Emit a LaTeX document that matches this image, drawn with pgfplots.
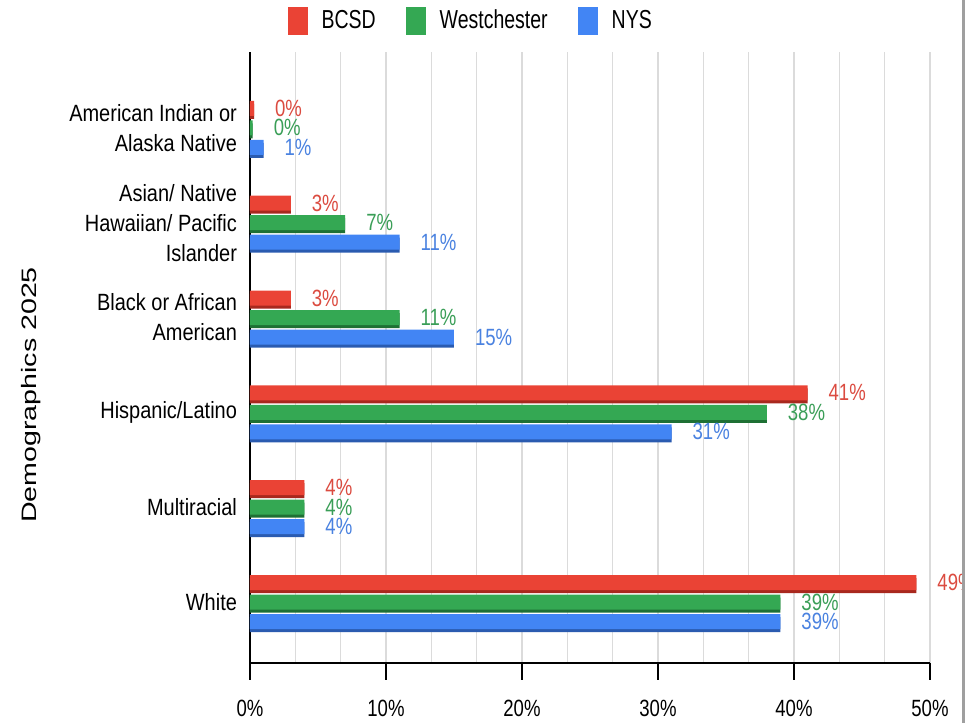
\documentclass[border=0pt]{standalone}
\usepackage{fontspec}
\setmainfont{Liberation Sans}[FakeStretch=0.85]
\newfontfamily\widefont{Liberation Sans}
\newfontfamily\catfont{Liberation Sans}[FakeStretch=0.85]
\newfontfamily\numfont{Liberation Sans}[FakeStretch=0.79]
\newfontfamily\legfont{Liberation Sans}[FakeStretch=0.75]
\usepackage{graphicx}
\usepackage{pgfplots}
\usepackage{pgfplotstable}
\pgfplotsset{compat=1.18}

\definecolor{cRed}{HTML}{EA4335}
\definecolor{cGreen}{HTML}{34A853}
\definecolor{cBlue}{HTML}{4285F4}
\definecolor{cRedD}{HTML}{A8281E}
\definecolor{cGreenD}{HTML}{1E7034}
\definecolor{cBlueD}{HTML}{2A5BB0}
\definecolor{tRed}{HTML}{DB4B40}
\definecolor{tGreen}{HTML}{3A9E57}
\definecolor{tBlue}{HTML}{4A82E0}

% pos 0 = White (bottom) ... 5 = American Indian or Alaska Native (top)
\pgfplotstableread{
pos bcsd west nys
0 49 39 39
1 4 4 4
2 41 38 31
3 3 11 15
4 3 7 11
5 0.3 0.2 1
}\demog

\begin{document}
\begin{tikzpicture}
\useasboundingbox (0,0) rectangle (485.5pt,361.5pt);
\begin{axis}[
  at={(125pt,30pt)}, anchor=south west,
  scale only axis, width=340pt, height=305.5pt,
  xbar, xmin=0, xmax=50, ymin=-0.643, ymax=5.80,
  axis lines*=left,
  axis line style={-, black, line width=1pt},
  xtick={0,10,...,50}, minor x tick num=2,
  xmajorgrids, xminorgrids,
  major grid style={gray!28, line width=0.6pt},
  minor grid style={gray!28, line width=0.6pt},
  minor tick length=0pt,
  tick align=outside, major tick length=8.5pt,
  xtick style={black, line width=1pt},
  ytick={0,...,5},
  ytick style={draw=none},
  yticklabels={White, Multiracial, Hispanic/Latino, {Black or African\\American}, {Asian/ Native\\Hawaiian/ Pacific\\Islander}, {American Indian or\\Alaska Native}},
  yticklabel style={align=right, font=\catfont\fontsize{11.75}{15}\selectfont, text=black, xshift=5.5pt},
  xticklabel={\pgfmathprintnumber{\tick}\%},
  xticklabel style={font=\numfont\fontsize{11.75}{13}\selectfont, text=black, yshift=-6.5pt},
  /pgf/number format/assume math mode=true,
  bar width=7.5pt,
  point meta=x,
  legend style={at={(axis description cs:0.326,1.0507)}, anchor=center, draw=none, fill=none,
    legend columns=3, font=\legfont\fontsize{13}{15}\selectfont,
    /tikz/every odd column/.append style={column sep=5pt},
    /tikz/every even column/.append style={column sep=13pt}},
  legend image code/.code={\fill[#1] (0pt,-7pt) rectangle (10pt,7pt);},
  ylabel={\scalebox{1}[0.73]{\widefont\fontsize{14.3}{16}\selectfont Demographics 2025}},
  ylabel style={at={(axis description cs:-0.322,0.4386)}, anchor=center},
]
% darker lower edges (3D look)
\addplot[xbar, fill=cRedD, draw=none, bar shift=8.25pt, forget plot] table[x=bcsd, y=pos] {\demog};
\addplot[xbar, fill=cGreenD, draw=none, bar shift=-1.5pt, forget plot] table[x=west, y=pos] {\demog};
\addplot[xbar, fill=cBlueD, draw=none, bar shift=-11.25pt, forget plot] table[x=nys, y=pos] {\demog};
% main bars
\addplot[xbar, fill=cRed, draw=none, bar shift=9.75pt,
  nodes near coords={\pgfmathprintnumber[fixed,precision=0]{\pgfplotspointmeta}\%},
  nodes near coords style={font=\numfont\fontsize{11.75}{13}\selectfont, text=tRed, anchor=west, xshift=7pt}]
  table[x=bcsd, y=pos] {\demog};
\addplot[xbar, fill=cGreen, draw=none, bar shift=0pt,
  nodes near coords={\pgfmathprintnumber[fixed,precision=0]{\pgfplotspointmeta}\%},
  nodes near coords style={font=\numfont\fontsize{11.75}{13}\selectfont, text=tGreen, anchor=west, xshift=7pt}]
  table[x=west, y=pos] {\demog};
\addplot[xbar, fill=cBlue, draw=none, bar shift=-9.75pt,
  nodes near coords={\pgfmathprintnumber[fixed,precision=0]{\pgfplotspointmeta}\%},
  nodes near coords style={font=\numfont\fontsize{11.75}{13}\selectfont, text=tBlue, anchor=west, xshift=7pt}]
  table[x=nys, y=pos] {\demog};
\legend{BCSD, Westchester, NYS}
\end{axis}
\fill[white] (482.2pt,0) rectangle (486pt,362pt);
\draw[gray!75, line width=1.5pt] (481.5pt,0) -- (481.5pt,361.5pt);
\end{tikzpicture}
\end{document}
